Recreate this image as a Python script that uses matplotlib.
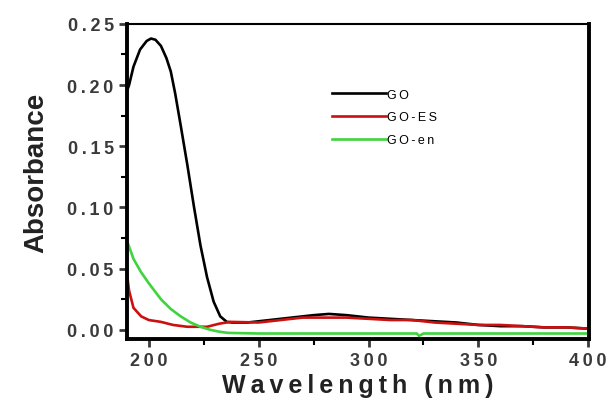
import matplotlib.pyplot as plt
from matplotlib.ticker import MultipleLocator, FuncFormatter

plt.rcParams['font.family'] = ['Liberation Sans', 'DejaVu Sans']

# GO spectrum
go_wl = [190, 191, 193, 196, 199, 201, 203, 205.5, 208, 210, 212, 214.5, 217.5,
         220.5, 223.5, 226.5, 229.5, 232.5, 235.5, 238, 245, 255, 265, 275,
         282, 290, 300, 310, 320, 330, 340, 350, 360, 370, 380, 390, 400]
go_abs = [0.195, 0.200, 0.215, 0.229, 0.236, 0.238, 0.237, 0.232, 0.222, 0.211,
          0.193, 0.167, 0.135, 0.101, 0.069, 0.043, 0.023, 0.011, 0.0065,
          0.006, 0.006, 0.008, 0.010, 0.012, 0.013, 0.012, 0.010, 0.009, 0.008,
          0.007, 0.006, 0.004, 0.003, 0.003, 0.002, 0.002, 0.001]

# GO-ES spectrum
es_wl = [190, 191, 193, 196.5, 200, 205.5, 211, 217.5, 222, 226.5, 232, 237,
         250, 260, 270, 280, 290, 300, 310, 320, 330, 340, 350, 360, 370, 380,
         390, 400]
es_abs = [0.046, 0.032, 0.018, 0.011, 0.008, 0.0065, 0.004, 0.0025, 0.0025,
          0.0025, 0.005, 0.0065, 0.006, 0.008, 0.010, 0.010, 0.010, 0.009,
          0.008, 0.008, 0.006, 0.005, 0.004, 0.004, 0.003, 0.002, 0.002, 0.001]

# GO-en spectrum
en_wl = [190, 193, 196.5, 200, 205.5, 210, 214.5, 219, 223.5, 228, 232, 236,
         250, 280, 300, 322, 323, 325, 350, 380, 400]
en_abs = [0.073, 0.058, 0.047, 0.038, 0.025, 0.017, 0.011, 0.006, 0.0025,
          0.000, -0.0015, -0.0025, -0.003, -0.003, -0.003, -0.003, -0.005,
          -0.003, -0.003, -0.003, -0.003]

labels = ['GO', 'GO-ES', 'GO-en']


def spaced(s):
    return '\u2009'.join(s)


fig = plt.figure(figsize=(6.1, 4.14), dpi=100)
ax = fig.add_axes([0.208, 0.179, 0.758, 0.761])

ax.plot(go_wl, go_abs, color='black', lw=1.9, label=spaced(labels[0]))
ax.plot(es_wl, es_abs, color='#cc1010', lw=1.9, label=spaced(labels[1]))
ax.plot(en_wl, en_abs, color='#3ed43e', lw=1.9, label=spaced(labels[2]))

ax.set_xlim(190, 400.5)
ax.set_ylim(-0.0074, 0.25)

ax.xaxis.set_major_locator(MultipleLocator(50))
ax.xaxis.set_minor_locator(MultipleLocator(25))
ax.yaxis.set_major_locator(MultipleLocator(0.05))
ax.yaxis.set_minor_locator(MultipleLocator(0.025))
ax.xaxis.set_major_formatter(FuncFormatter(lambda v, p: spaced('%d' % v)))
ax.yaxis.set_major_formatter(FuncFormatter(lambda v, p: spaced('%.2f' % v)))

ax.tick_params(which='major', direction='out', length=6, width=2,
               labelsize=13, colors='#3a3a3a')
ax.tick_params(which='minor', direction='out', length=4, width=1.5)
ax.tick_params(axis='y', which='both', right=False)
for lab in ax.get_xticklabels() + ax.get_yticklabels():
    lab.set_fontweight('bold')

for side in ['left', 'right', 'bottom']:
    ax.spines[side].set_linewidth(2.8)
ax.spines['top'].set_linewidth(1.5)

ax.set_xlabel(spaced('Wavelength (nm)'), fontsize=18, fontweight='bold',
              color='#222222', labelpad=3)
ax.set_ylabel('Absorbance', fontsize=20, fontweight='bold', color='#222222',
              labelpad=13)
ax.yaxis.label.set_y(0.53)

ax.legend(loc='upper left', bbox_to_anchor=(0.42, 0.83), frameon=False,
          fontsize=9, handlelength=4.3, handletextpad=0.05, labelspacing=0.85)

fig.savefig('out.png', dpi=100)
